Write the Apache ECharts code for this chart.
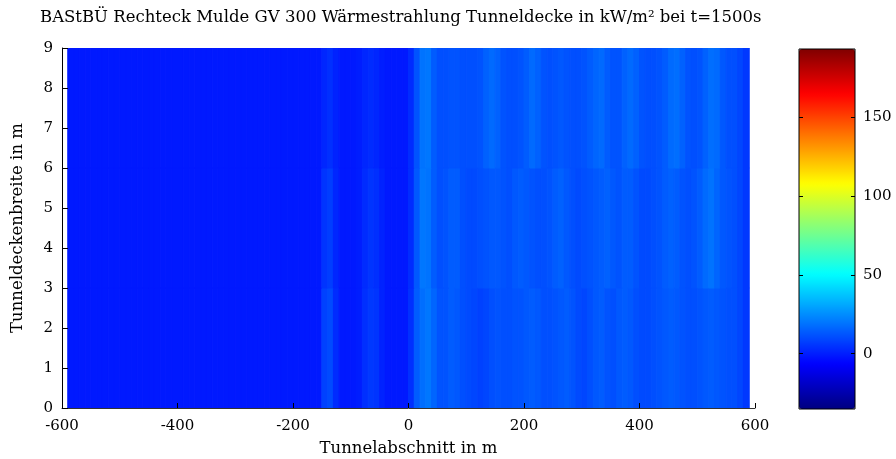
<!DOCTYPE html>
<html>
<head>
<meta charset="utf-8">
<title>Wärmestrahlung Tunneldecke</title>
<script src="https://cdn.jsdelivr.net/npm/echarts@6/dist/echarts.min.js"></script>
<style>
    html, body { margin: 0; padding: 0; background: #fff; }
    #chart { width: 896px; height: 459px; }
</style>
</head>
<body>
<div id="chart"></div>
<script>
// Tunnelabschnitt: Zellmitten alle 10 m von -585 bis 585
const sectionStart = -585;
const sectionStep = 10;
// Tunneldeckenbreite: drei Bänder (0-3, 3-6, 6-9 m)
const widthRows = [1.5, 4.5, 7.5];

// Wärmestrahlung in kW/m², je Band eine Reihe (links -585..-5, rechts 5..585)
const rowBottom = [
    -1, -1, -1, -1, -1, -1, -1, -1, -1, -1, -1,
    -1, -1, -1, -1, -1, -1, -1, -1, -1, -1, -1,
    -1, -1, -1, -1, -1, -1, -1, -1, -1, -1, -1,
    -1, -1, -1, -1, -1, -1, -1, -1, -1, -1, -1,
    8, 10, 3, -1, -1, -1, 0, 4, 6, 5, 1, -1, -1, -1, -1,
    4, 14, 18, 20, 16, 12, 12, 14, 13, 11,
    10, 9, 8, 9, 11, 12, 11, 11, 12, 12,
    13, 14, 13, 11, 11, 12, 13, 14, 12, 10,
    9, 11, 13, 14, 12, 11, 13, 14, 13, 11,
    10, 10, 11, 12, 13, 14, 13, 12, 11, 11,
    12, 13, 14, 13, 12, 11, 11, 9, 6
];
const rowMiddle = [
    -1, -1, -1, -1, -1, -1, -1, -1, -1, -1, -1,
    -1, -1, -1, -1, -1, -1, -1, -1, -1, -1, -1,
    -1, -1, -1, -1, -1, -1, -1, -1, -1, -1, -1,
    -1, -1, -1, -1, -1, -1, -1, -1, -1, -1, -1,
    5, 7, 2, -1, -1, -1, 0, 3, 5, 4, 1, -1, -1, -1, -1,
    3, 13, 20, 19, 14, 11, 12, 14, 14, 11,
    10, 10, 11, 12, 13, 13, 12, 11, 13, 14,
    13, 12, 11, 11, 12, 14, 15, 13, 11, 10,
    11, 12, 13, 14, 15, 13, 12, 14, 14, 12,
    10, 10, 11, 12, 14, 15, 14, 12, 11, 12,
    14, 17, 19, 16, 13, 12, 11, 9, 6
];
const rowTop = [
    -1, -1, -1, -1, -1, -1, -1, -1, -1, -1, -1,
    -1, -1, -1, -1, -1, -1, -1, -1, -1, -1, -1,
    -1, -1, -1, -1, -1, -1, -1, -1, -1, -1, -1,
    -1, -1, -1, -1, -1, -1, -1, -1, -1, -1, -1,
    2, 4, 1, -1, -1, -1, 0, 2, 3, 2, 0, -1, -1, -1, -1,
    3, 12, 19, 20, 14, 11, 11, 12, 12, 11,
    11, 11, 12, 15, 17, 15, 12, 11, 11, 12,
    14, 17, 15, 12, 11, 12, 13, 12, 11, 11,
    12, 14, 16, 17, 14, 12, 12, 15, 17, 15,
    12, 11, 11, 12, 14, 17, 18, 15, 12, 11,
    12, 15, 18, 17, 13, 11, 11, 9, 6
];

// Farbskala
const scaleMin = -35;
const scaleMax = 193;
const scaleTicks = [0, 50, 100, 150];
const jet = ['#000080', '#0000ff', '#0080ff', '#00ffff', '#80ff80',
             '#ffff00', '#ff8000', '#ff0000', '#800000'];

const cellW = 10;
const cellH = 3;
const font = 'DejaVu Serif';

let chartDom = document.getElementById('chart');
let myChart = echarts.init(chartDom);

let rows = [rowBottom, rowMiddle, rowTop];
let cells = [];
rows.forEach((row, r) => {
    row.forEach((v, i) => {
        cells.push([sectionStart + i * sectionStep, widthRows[r], v]);
    });
});

// Zellen über die Achsen zeichnen
let renderCell = (params, api) => {
    let x = api.value(0);
    let y = api.value(1);
    let p0 = api.coord([x - cellW / 2, y + cellH / 2]);
    let p1 = api.coord([x + cellW / 2, y - cellH / 2]);
    let c = api.visual('color');
    return {
        type: 'rect',
        shape: {
            x: p0[0],
            y: p0[1],
            width: p1[0] - p0[0],
            height: p1[1] - p0[1]
        },
        style: { fill: c, stroke: c, lineWidth: 1 }
    };
};

let tickText = { color: '#000', fontFamily: font, fontSize: 15 };
let nameText = { color: '#000', fontFamily: font, fontSize: 16.5 };

const option = {
    animation: false,
    title: {
        text: 'BAStBÜ Rechteck Mulde GV 300 Wärmestrahlung Tunneldecke in kW/m² bei t=1500s',
        left: 40,
        top: 9,
        padding: 0,
        textStyle: { color: '#000', fontFamily: font, fontSize: 16.5, fontWeight: 'normal' }
    },
    grid: [
        { left: 62, right: 141, top: 48, bottom: 51, outerBoundsMode: 'none' },
        {
            left: 799, top: 49, width: 56, height: 360,
            show: true, borderColor: '#000', borderWidth: 1,
            backgroundColor: 'transparent', z: 10, outerBoundsMode: 'none'
        }
    ],
    xAxis: [
        {
            type: 'value',
            min: -600,
            max: 600,
            interval: 200,
            name: 'Tunnelabschnitt in m',
            nameLocation: 'middle',
            nameGap: 32,
            nameTextStyle: nameText,
            axisLine: { onZero: false, lineStyle: { color: '#333', width: 1 } },
            axisTick: { inside: true, length: 5, lineStyle: { color: '#000' } },
            axisLabel: Object.assign({ margin: 11 }, tickText),
            splitLine: { show: false },
            z: 10
        },
        {
            type: 'value', gridIndex: 1, min: 0, max: 1,
            show: false
        }
    ],
    yAxis: [
        {
            type: 'value',
            min: 0,
            max: 9,
            interval: 1,
            name: 'Tunneldeckenbreite in m',
            nameLocation: 'middle',
            nameGap: 36,
            nameTextStyle: nameText,
            axisLine: { show: true, onZero: false, lineStyle: { color: '#000', width: 1 } },
            axisTick: { show: true, inside: true, length: 6, lineStyle: { color: '#000' } },
            axisLabel: Object.assign({ margin: 9 }, tickText),
            splitLine: { show: false },
            z: 10
        },
        {
            type: 'value', gridIndex: 1, position: 'right',
            min: scaleMin, max: scaleMax,
            axisLine: { show: false, onZero: false },
            axisTick: { show: true, inside: true, length: 4, customValues: scaleTicks, lineStyle: { color: '#000' } },
            axisLabel: Object.assign({ margin: 8, customValues: scaleTicks }, tickText),
            splitLine: { show: false },
            z: 20
        },
        {
            type: 'value', gridIndex: 1, position: 'left',
            min: scaleMin, max: scaleMax,
            axisLine: { show: false, onZero: false },
            axisTick: { show: true, inside: true, length: 4, customValues: scaleTicks, lineStyle: { color: '#000' } },
            axisLabel: { show: false },
            splitLine: { show: false },
            z: 20
        }
    ],
    visualMap: {
        type: 'continuous',
        min: scaleMin,
        max: scaleMax,
        dimension: 2,
        seriesIndex: 0,
        calculable: false,
        left: 799,
        top: 49,
        itemWidth: 56,
        itemHeight: 360,
        padding: 0,
        text: null,
        z: 1,
        inRange: { color: jet }
    },
    series: [{
        type: 'custom',
        xAxisIndex: 0,
        yAxisIndex: 0,
        renderItem: renderCell,
        encode: { x: 0, y: 1 },
        data: cells,
        clip: true,
        silent: true
    }]
};

option && myChart.setOption(option);
</script>
</body>
</html>
